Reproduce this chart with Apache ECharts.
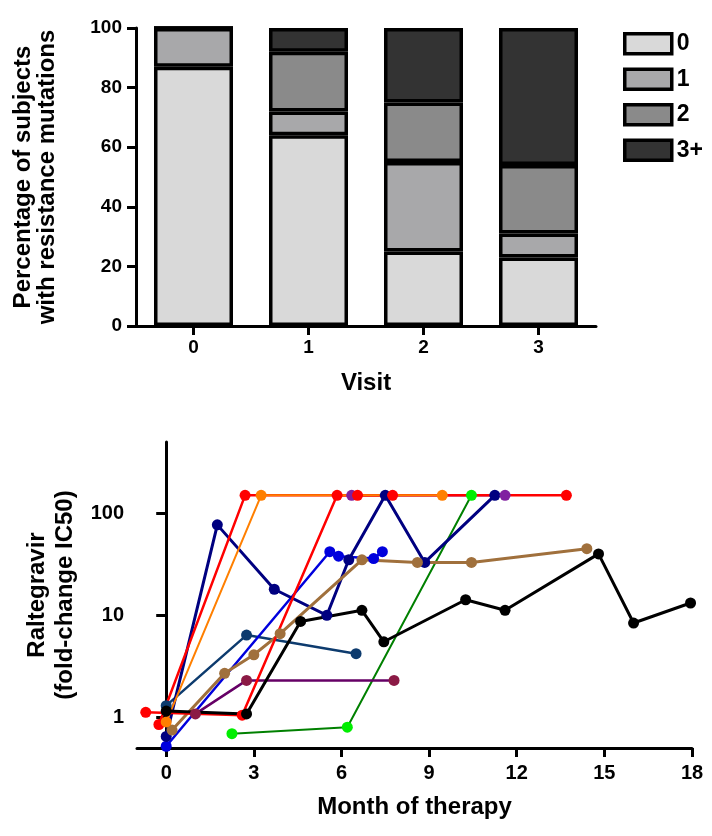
<!DOCTYPE html>
<html>
<head>
<meta charset="utf-8">
<script src="https://cdn.jsdelivr.net/npm/echarts@6/dist/echarts.min.js"></script>
<style>
html,body{margin:0;padding:0;background:#fff;}
#c{width:712px;height:836px;}
</style>
</head>
<body>
<div id="c"></div>
<script>
// ---- Top panel: stacked bars ----
const visits = ['0', '1', '2', '3'];
const mutLabels = ['0', '1', '2', '3+'];
const mut0 = [87, 64, 25, 23];
const mut1 = [13, 8, 30, 8];
const mut2 = [0, 20, 20, 23];
const mut3 = [0, 8, 25, 46];
const pctTicks = [0, 20, 40, 60, 80, 100];

// ---- Bottom panel: fold-change over months ----
const monthTicks = [0, 3, 6, 9, 12, 15, 18];
const foldTicks = [1, 10, 100];
const ptGreen  = [[2.25, 0.69], [6.2, 0.8], [10.45, 150]];
const ptMaroon = [[1.0, 1.08], [2.75, 2.3], [7.8, 2.3]];
const ptTeal   = [[0, 1.3], [2.75, 6.4], [6.5, 4.2]];
const ptBlue   = [[0, 0.52], [5.6, 42], [5.9, 38], [7.1, 36], [7.4, 42]];
const ptNavy   = [[0, 0.65], [1.75, 77], [3.7, 18], [5.5, 10], [6.25, 35], [7.5, 150], [8.85, 33], [11.25, 150]];
const ptBrown  = [[0.2, 0.75], [2.0, 2.7], [3.0, 4.1], [3.9, 6.6], [6.7, 35], [8.6, 33], [10.45, 33], [14.4, 45]];
const ptPurple = [[6.35, 150], [11.6, 150]];
const ptRedB   = [[-0.25, 0.85], [2.7, 150], [13.7, 150]];
const ptRedA   = [[-0.7, 1.12], [2.6, 1.05], [5.85, 150], [6.55, 150], [7.75, 150]];
const ptOrange = [[0, 0.9], [3.25, 150], [9.45, 150]];
const ptBlack  = [[0, 1.15], [2.75, 1.08], [4.6, 8.7], [6.7, 11.2], [7.45, 5.5], [10.25, 14.2], [11.6, 11.2], [14.8, 40], [16.0, 8.4], [17.95, 13.2]];

const FONT = "'Liberation Sans', Arial, sans-serif";
const barColors = ['#d9d9d9', '#a8a8aa', '#8a8a8a', '#333333'];
const barData = [mut0, mut1, mut2, mut3];

const axisLine = { show: true, lineStyle: { color: '#000', width: 3 } };
const lbl = (size, margin) => ({ color: '#000', fontFamily: FONT, fontWeight: 'bold', fontSize: size, margin: margin });
const nameStyle = (size, lh) => ({ color: '#000', fontFamily: FONT, fontWeight: 'bold', fontSize: size, lineHeight: lh });

const barSeries = mutLabels.map((n, i) => ({
  type: 'bar', name: n, stack: 'muts', xAxisIndex: 0, yAxisIndex: 0,
  barWidth: 79, data: barData[i],
  itemStyle: { color: barColors[i], borderColor: '#000', borderWidth: 3.5 }
}));

function lineSeries(data, lineColor, markColor, width) {
  return {
    type: 'line', xAxisIndex: 1, yAxisIndex: 1, data: data,
    symbol: 'circle', symbolSize: 11, showSymbol: true,
    lineStyle: { color: lineColor, width: width },
    itemStyle: { color: markColor }
  };
}

const lines = [
  lineSeries(ptGreen, '#008000', '#00ee00', 2),
  lineSeries(ptMaroon, '#660066', '#8b1a45', 2.5),
  lineSeries(ptTeal, '#0d3b6e', '#0d3b6e', 2.5),
  lineSeries(ptBlue, '#0000dd', '#0000dd', 2.5),
  lineSeries(ptNavy, '#000080', '#000080', 3),
  lineSeries(ptBrown, '#a0703c', '#a0703c', 3),
  lineSeries(ptPurple, '#8020a0', '#8020a0', 2.5),
  lineSeries(ptRedB, '#ff0000', '#ff0000', 2.5),
  lineSeries(ptRedA, '#ff0000', '#ff0000', 2.5),
  lineSeries(ptOrange, '#ff7f00', '#ff7f00', 2),
  lineSeries(ptBlack, '#000000', '#000000', 3)
];

const chart = echarts.init(document.getElementById('c'), null, { renderer: 'canvas' });
chart.setOption({
  animation: false,
  backgroundColor: '#fff',
  textStyle: { fontFamily: FONT },
  legend: {
    data: mutLabels.map(n => ({ name: n, icon: 'rect' })),
    orient: 'vertical', left: 623, top: 32, padding: 0,
    itemWidth: 47, itemHeight: 20, itemGap: 12,
    selectedMode: false,
    textStyle: { color: '#000', fontFamily: FONT, fontWeight: 'bold', fontSize: 23, lineHeight: 20 },
    itemStyle: { borderColor: '#000', borderWidth: 3.5 }
  },
  grid: [
    { left: 136, top: 28, width: 460, height: 298, containLabel: false },
    { left: 137, top: 442, width: 555, height: 306, containLabel: false }
  ],
  xAxis: [
    {
      type: 'category', gridIndex: 0, data: visits,
      axisLine: axisLine,
      axisTick: { show: true, alignWithLabel: true, length: 9, lineStyle: { color: '#000', width: 3 } },
      axisLabel: lbl(19, 12),
      name: 'Visit', nameLocation: 'middle', nameGap: 45, nameTextStyle: nameStyle(24, 24)
    },
    {
      type: 'value', gridIndex: 1, min: -1, max: 18,
      axisLine: axisLine,
      splitLine: { show: false },
      axisTick: { show: true, length: 9, customValues: monthTicks, lineStyle: { color: '#000', width: 3 } },
      axisLabel: Object.assign(lbl(20, 15), { customValues: monthTicks }),
      name: 'Month of therapy', nameLocation: 'middle', nameGap: 47, nameTextStyle: nameStyle(24, 24)
    }
  ],
  yAxis: [
    {
      type: 'value', gridIndex: 0, min: 0, max: 100, interval: 20,
      axisLine: axisLine,
      splitLine: { show: false },
      axisTick: { show: true, length: 9, lineStyle: { color: '#000', width: 3 } },
      axisLabel: lbl(19, 14),
      name: 'Percentage of subjects\nwith resistance mutations', nameLocation: 'middle', nameRotate: 90,
      nameGap: 77, nameTextStyle: nameStyle(24, 24)
    },
    {
      type: 'log', logBase: 10, gridIndex: 1, min: 0.5, max: 500,
      axisLine: axisLine,
      splitLine: { show: false },
      minorTick: { show: false },
      axisTick: { show: true, length: 10, customValues: foldTicks, lineStyle: { color: '#000', width: 3 } },
      axisLabel: Object.assign(lbl(20, 13), { customValues: foldTicks }),
      name: 'Raltegravir\n(fold-change IC50)', nameLocation: 'middle', nameRotate: 90,
      nameGap: 57, nameTextStyle: nameStyle(24, 28)
    }
  ],
  series: barSeries.concat(lines)
});
</script>
</body>
</html>
